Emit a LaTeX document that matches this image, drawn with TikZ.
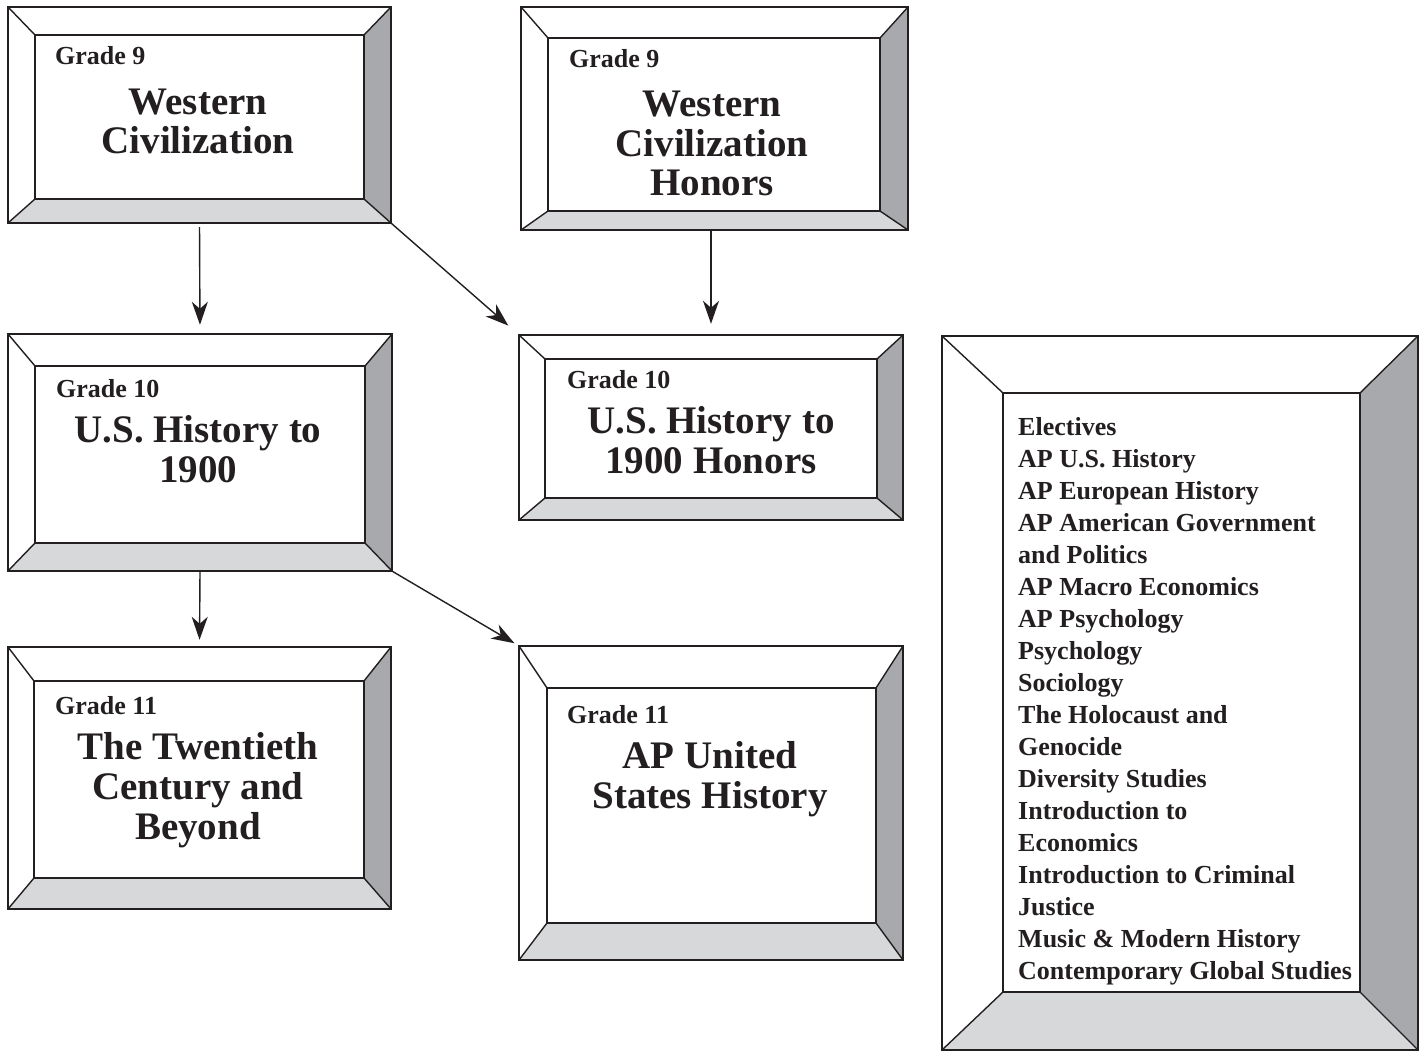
\documentclass[tikz,border=0pt]{standalone}
\usepackage{fontspec}
\setmainfont{Liberation Serif}
\usetikzlibrary{arrows.meta,fit,calc}
\definecolor{ink}{HTML}{231F20}
\definecolor{bevRight}{HTML}{A7A9AC}
\definecolor{bevBottom}{HTML}{D7D8DA}
\tikzset{
  edge/.style={draw=ink, line width=1.4pt, line join=miter},
  grade/.style={font=\fontsize{26}{30}\selectfont\bfseries, text=ink, anchor=base west, inner sep=0pt},
  ttl/.style={font=\fontsize{39}{40}\selectfont\bfseries, text=ink, anchor=base, inner sep=0pt},
  elec/.style={font=\fontsize{26}{32}\selectfont\bfseries, text=ink, anchor=base west, inner sep=0pt},
  arr/.style={draw=ink, line width=1.4pt, -{Stealth[length=23pt, width=16pt, inset=7pt]}},
}
% name, outer x1 y1 x2 y2, inner x1 y1 x2 y2
\newcommand\bevbox[9]{%
  \fill[white] (#2,#3) rectangle (#4,#5);
  \fill[bevRight] (#4,#3) -- (#4,#5) -- (#8,#9) -- (#8,#7) -- cycle;
  \fill[bevBottom] (#2,#5) -- (#4,#5) -- (#8,#9) -- (#6,#9) -- cycle;
  \draw[edge] (#2,#3) rectangle (#4,#5);
  \draw[edge] (#6,#7) rectangle (#8,#9);
  \draw[edge] (#2,#3) -- (#6,#7) (#4,#3) -- (#8,#7) (#4,#5) -- (#8,#9) (#2,#5) -- (#6,#9);
  \node[fit={(#2,#3)(#4,#5)}, inner sep=0pt] (#1) {};
}
\begin{document}
\begin{tikzpicture}[x=1pt, y=-1pt]
\useasboundingbox (0,0) rectangle (1426,1051);

\bevbox{b1}{8}{7}{391}{223}{35}{35}{364}{199}
\bevbox{b2}{521}{7}{908}{230}{548}{38}{880}{211}
\bevbox{b3}{8}{334}{392}{571}{35}{366}{365}{543}
\bevbox{b4}{519}{335}{903}{520}{545}{359}{877}{498}
\bevbox{b5}{8}{647}{391}{909}{34}{681}{364}{878}
\bevbox{b6}{519}{646}{903}{960}{547}{688}{876}{923}
\bevbox{b7}{942}{336}{1418}{1050}{1003}{393}{1360}{992}

% Box 1
\node[grade] (g1) at (55,65) {Grade 9};
\node[ttl] (t1a) at (198,115) {Western};
\node[ttl] (t1b) at (198,154) {Civilization};
% Box 2
\node[grade] (g2) at (569,68) {Grade 9};
\node[ttl] (t2a) at (712,117) {Western};
\node[ttl] (t2b) at (712,157) {Civilization};
\node[ttl] (t2c) at (712,196) {Honors};
% Box 3
\node[grade] (g3) at (56,397) {Grade 10};
\node[ttl] (t3a) at (198,442) {U.S. History to};
\node[ttl] (t3b) at (198,482) {1900};
% Box 4
\node[grade] (g4) at (567,388) {Grade 10};
\node[ttl] (t4a) at (711,433) {U.S. History to};
\node[ttl] (t4b) at (711,473) {1900 Honors};
% Box 5
\node[grade] (g5) at (55,714) {Grade 11};
\node[ttl] (t5a) at (198,759) {The Twentieth};
\node[ttl] (t5b) at (198,799) {Century and};
\node[ttl] (t5c) at (198,839) {Beyond};
% Box 6
\node[grade] (g6) at (567,723) {Grade 11};
\node[ttl] (t6a) at (710,768) {AP United};
\node[ttl] (t6b) at (710,808) {States History};
% Box 7
\foreach \t [count=\i] in {Electives, AP U.S. History, AP European History,
  AP American Government, and Politics, AP Macro Economics, AP Psychology,
  Psychology, Sociology, The Holocaust and, Genocide, Diversity Studies,
  Introduction to, Economics, Introduction to Criminal, Justice,
  Music \& Modern History, Contemporary Global Studies}
  \node[elec] (e\i) at (1018,{403+32*\i}) {\t};

% Arrows
\draw[arr, shorten <=4pt, shorten >=9pt] (b1.south) -- (b3.north);
\draw[arr, shorten >=14pt] (b1.south east) -- (b4.north west);
\draw[arr, shorten >=11pt] (b2.south -| b4.north) -- (b4.north);
\draw[arr, shorten >=7pt] (b3.south) -- (b5.north);
\draw[arr, shorten >=5pt] (b3.south east) -- (b6.north west);
\end{tikzpicture}
\end{document}
